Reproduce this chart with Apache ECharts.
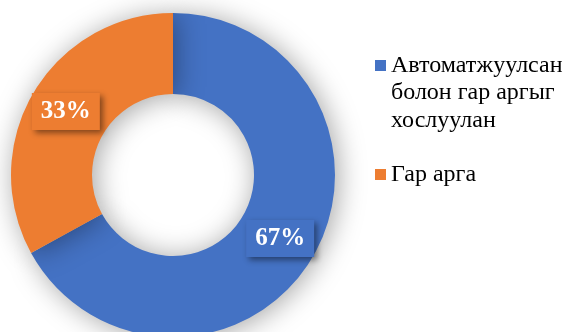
<!DOCTYPE html>
<html>
<head>
<meta charset="utf-8">
<script src="https://cdn.jsdelivr.net/npm/echarts@6/dist/echarts.min.js"></script>
<style>
  html, body { margin: 0; padding: 0; background: #ffffff; }
  #chart { width: 566px; height: 332px; }
</style>
</head>
<body>
<div id="chart"></div>
<script>
// Share of working methods
const categories = ['Автоматжуулсан болон гар аргыг хослуулан', 'Гар арга'];
const values = [67, 33];
const colors = ['#4472C4', '#ED7D31'];
// Legend text broken into display lines
const legendLines = [
  ['Автоматжуулсан', 'болон гар аргыг', 'хослуулан'],
  ['Гар арга']
];

const FONT = 'Liberation Serif';
const FONT_SIZE = 24;
const LINE_H = 27.5;
const SQ = 11;

const chart = echarts.init(document.getElementById('chart'), null, { renderer: 'canvas' });

// A square pinned to the top of a taller, otherwise empty icon box,
// so the marker lines up with the first line of a wrapped label.
function topSquareIcon(h) {
  return 'path://M0,0L' + SQ + ',0L' + SQ + ',' + SQ + 'L0,' + SQ + 'Z' +
         'M0,' + SQ + 'L0,' + h + 'Z';
}

function legendFor(i, squareTop) {
  const lines = legendLines[i];
  const n = lines.length;
  const iconH = (n - 1) * LINE_H + SQ;
  // top of the item's bounding box (text block may stick out above the icon)
  const textTop = iconH / 2 - (n * LINE_H) / 2;
  return {
    data: [categories[i]],
    orient: 'vertical',
    left: 375,
    top: squareTop + Math.min(0, textTop),
    padding: 0,
    icon: n > 1 ? topSquareIcon(iconH) : 'rect',
    itemWidth: SQ,
    itemHeight: iconH,
    selectedMode: false,
    formatter: () => lines.join('\n'),
    textStyle: {
      fontFamily: FONT,
      fontSize: FONT_SIZE,
      color: '#000000',
      lineHeight: LINE_H
    }
  };
}

chart.setOption({
  animation: false,
  color: colors,
  legend: [legendFor(0, 60), legendFor(1, 169)],
  series: [{
    type: 'pie',
    center: [173, 175],
    radius: [81, 162],
    startAngle: 90,
    clockwise: true,
    avoidLabelOverlap: false,
    emphasis: { disabled: true },
    itemStyle: {
      shadowBlur: 28,
      shadowColor: 'rgba(0,0,0,0.36)',
      shadowOffsetX: 3,
      shadowOffsetY: 2
    },
    labelLine: { show: false },
    label: {
      show: true,
      position: 'inside',
      formatter: '{c}%',
      fontFamily: FONT,
      fontWeight: 'bold',
      fontSize: 25,
      lineHeight: 28,
      color: '#ffffff',
      padding: [5, 9, 4, 9],
      shadowBlur: 6,
      shadowColor: 'rgba(0,0,0,0.45)',
      shadowOffsetX: 3,
      shadowOffsetY: 3
    },
    data: categories.map((name, i) => ({
      name: name,
      value: values[i],
      label: { backgroundColor: colors[i] }
    }))
  }]
});
</script>
</body>
</html>
